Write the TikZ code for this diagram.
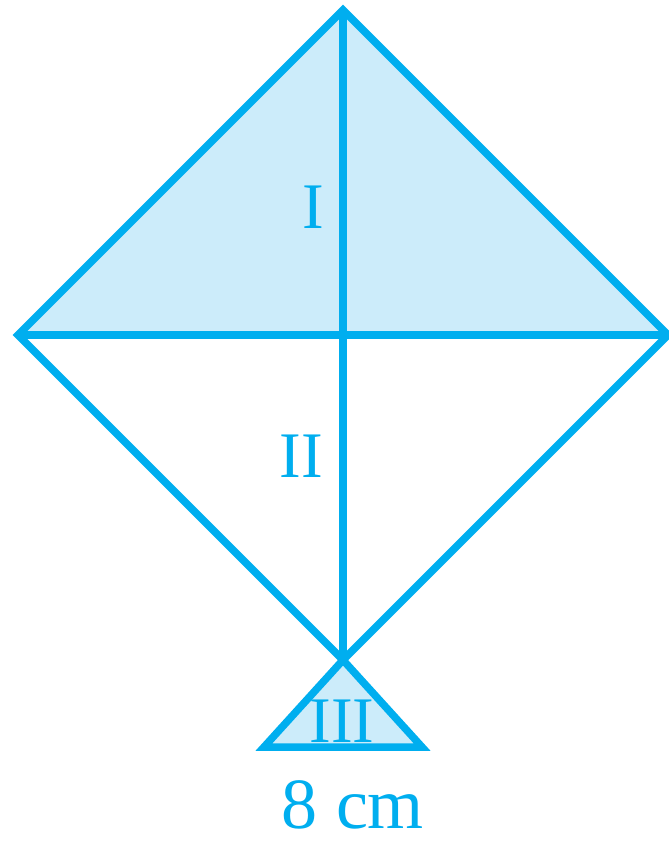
\documentclass[tikz,border=0pt]{standalone}
\usepackage{fontspec}
\setmainfont{Liberation Serif}
\usepackage{tikz}
\usetikzlibrary{calc,positioning}
\definecolor{kiteline}{RGB}{0,174,239}
\definecolor{kitefill}{RGB}{204,236,250}

\begin{document}
\begin{tikzpicture}[x=0.02cm, y=-0.02cm,
    edge/.style={draw=kiteline, line width=7.5*0.02cm},
    lbl/.style={text=kiteline, font=\fontsize{37}{40}\selectfont, inner sep=0pt, anchor=base}]
  \useasboundingbox (0,0) rectangle (669,843);
  % kite corners
  \coordinate (top) at (343,10);
  \coordinate (lft) at (18,335);
  \coordinate (rgt) at (668,335);
  \coordinate (mid) at (343,335);
  \coordinate (bot) at (343,660);
  \coordinate (tl) at (264,747);
  \coordinate (tr) at (422,747);
  % shaded parts
  \fill[kitefill] (top) -- (lft) -- (rgt) -- cycle;
  \fill[kitefill] (bot) -- (tl) -- (tr) -- cycle;
  % outline
  \draw[edge, line join=miter] (top) -- (lft) -- (bot) -- (rgt) -- cycle;
  \draw[edge] (lft) -- (rgt);
  \draw[edge] (top) -- (bot);
  \draw[edge, line cap=round] (bot) -- (tl) -- (tr) -- cycle;
  % labels
  \node[lbl] (one) at (313,228) {I};
  \node[lbl] (two) at (301,477) {II};
  \node[lbl] (three) at (342,742) {III};
  \node[lbl, font=\fontsize{41}{44}\selectfont] (base) at (353,828) {8 cm};
\end{tikzpicture}
\end{document}
